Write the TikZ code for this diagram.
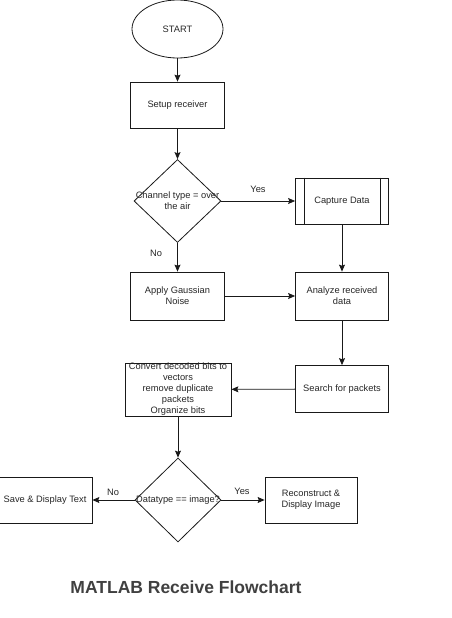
\documentclass[tikz,border=0pt]{standalone}
\usepackage{fontspec}
\setmainfont{Liberation Sans}
\usetikzlibrary{shapes.geometric,arrows.meta}
\begin{document}
\begin{tikzpicture}[x=1pt,y=-1pt,
  font=\fontsize{9.3}{11}\selectfont,
  every node/.style={text=black!85},
  box/.style={draw=black!90, line width=0.8pt, rectangle, inner sep=0pt, align=center},
  dec/.style={draw=black!90, diamond, inner sep=0pt, line width=0.8pt},
  arr/.style={-{Stealth[length=7pt,width=6pt,inset=1.2pt]}, line width=0.8pt, draw=black!90},
  lbl/.style={inner sep=0pt}]
\useasboundingbox (0,0) rectangle (451,618);
\node[draw=black!90, line width=0.8pt, ellipse, minimum width=91pt, minimum height=58pt, inner sep=0pt] (start) at (177.5,29) {START};
\node[box, minimum width=94pt, minimum height=46pt] (setup) at (177.5,105) {Setup receiver};
\node[dec, minimum width=87pt, minimum height=83pt] (d1) at (177.5,201) {};
\node[align=center, inner sep=0pt] (d1t) at (d1.center) {Channel type = over\\the air};
\node[box, minimum width=93pt, minimum height=46pt] (capture) at (342,201) {Capture Data};
\draw[line width=0.8pt, draw=black!90] ([xshift=9pt]capture.north west) -- ([xshift=9pt]capture.south west)
  ([xshift=-9pt]capture.north east) -- ([xshift=-9pt]capture.south east);
\node[box, minimum width=94pt, minimum height=48pt] (apply) at (177.5,296) {Apply Gaussian\\Noise};
\node[box, minimum width=93pt, minimum height=48pt] (analyze) at (342,296) {Analyze received\\data};
\node[box, minimum width=93pt, minimum height=47pt] (search) at (342,389) {Search for packets};
\node[box, minimum width=106pt, minimum height=53pt] (convert) at (178,389.5) {Convert decoded bits to\\vectors\\remove duplicate\\packets\\Organize bits};
\node[dec, minimum width=86pt, minimum height=84pt] (d2) at (178,500) {};
\node[inner sep=0pt] (d2t) at (d2.center) {Datatype == image?};
\node[box, minimum width=94pt, minimum height=46pt] (save) at (45,500) {Save \& Display Text};
\node[box, minimum width=92pt, minimum height=46pt] (recon) at (311,500) {Reconstruct \&\\Display Image};
\draw[arr] (start) -- (setup);
\draw[arr] (setup) -- (d1);
\draw[arr] (d1.east) -- (capture.west);
\draw[arr] (d1.south) -- (apply.north);
\draw[arr] (apply) -- (analyze);
\draw[arr] (capture) -- (analyze);
\draw[arr] (analyze) -- (search);
\draw[arr] (search) -- (convert);
\draw[arr] (convert) -- (d2);
\draw[arr] (d2.west) -- (save.east);
\draw[arr] (d2.east) -- (recon.west);
\node[lbl] (yes1) at (258,189) {Yes};
\node[lbl] (no1) at (156,253) {No};
\node[lbl] (no2) at (113,492) {No};
\node[lbl] (yes2) at (242,491) {Yes};
\node[font=\fontsize{17.5}{20}\selectfont\bfseries, text=black!75] (title) at (186,587) {MATLAB Receive Flowchart};
\end{tikzpicture}
\end{document}
